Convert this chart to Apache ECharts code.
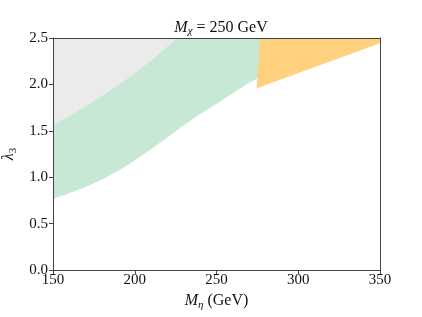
<!DOCTYPE html>
<html><head><meta charset="utf-8">
<script src="https://cdn.jsdelivr.net/npm/echarts@6/dist/echarts.min.js"></script>
<style>html,body{margin:0;padding:0;background:#fff}#c{width:422px;height:317px}</style>
</head><body><div id="c"></div>
<script>
// Gray region: above this boundary up to lambda = 2.5
const grayBoundX = [150, 160, 170, 180, 190, 200, 210, 220, 226];
const grayBoundY = [1.555, 1.657, 1.762, 1.872, 1.99, 2.117, 2.255, 2.405, 2.5];
// Green region: lower boundary
const greenLowX = [150, 160, 170, 180, 190, 200, 210, 220, 230, 240, 250, 260, 270, 275.5];
const greenLowY = [0.768, 0.83, 0.898, 0.978, 1.073, 1.183, 1.305, 1.432, 1.562, 1.684, 1.795, 1.907, 2.022, 2.07];
// Green right edge top point
const greenTopRightX = 276.8;
// Orange region: lower boundary
const orangeLowX = [274.7, 300, 325, 350];
const orangeLowY = [1.96, 2.125, 2.285, 2.446];
const orangeTopLeftX = 276.8;
const yMax = 2.5;

function zip(xs, ys) { return xs.map((x, i) => [x, ys[i]]); }

const grayPoly = [[150, yMax]].concat(zip(grayBoundX, grayBoundY));
const greenPoly = zip(greenLowX, greenLowY)
  .concat([[greenTopRightX, yMax]])
  .concat(zip(grayBoundX, grayBoundY).reverse());
const orangePoly = zip(orangeLowX, orangeLowY)
  .concat([[350, yMax], [orangeTopLeftX, yMax]]);

function polySeries(pts, color, z) {
  return {
    type: 'custom', z: z, clip: true, silent: true,
    data: pts,
    encode: { x: 0, y: 1 },
    renderItem: function (params, api) {
      if (params.dataIndex !== 0) return null;
      const points = pts.map(p => api.coord(p));
      return { type: 'polygon', shape: { points: points }, style: { fill: color, stroke: color, lineWidth: 0.5 } };
    }
  };
}

const serif = '"Liberation Serif", "DejaVu Serif", serif';
const frameColor = '#444';
const chart = echarts.init(document.getElementById('c'), null, { renderer: 'canvas' });
chart.setOption({
  animation: false,
  backgroundColor: '#fff',
  title: {
    text: '{i|M}{s|χ}{n| = 250 GeV}',
    left: 216, top: 13, textAlign: 'center',
    textStyle: {
      fontWeight: 'normal',
      rich: {
        i: { fontFamily: serif, fontStyle: 'italic', fontWeight: 'normal', fontSize: 16, color: '#111' },
        s: { fontFamily: serif, fontStyle: 'italic', fontWeight: 'normal', fontSize: 11, color: '#111', padding: [8, 0, 0, 0] },
        n: { fontFamily: serif, fontWeight: 'normal', fontSize: 16, color: '#111' }
      }
    }
  },
  grid: { left: 53, right: 42, top: 38, bottom: 47, containLabel: false, outerBoundsMode: 'none', show: false },
  xAxis: [{
    type: 'value', min: 150, max: 350, interval: 50, z: 10,
    name: '{i|M}{s|η}{n| (GeV)}', nameLocation: 'middle', nameGap: 21,
    nameTextStyle: {
      rich: {
        i: { fontFamily: serif, fontStyle: 'italic', fontSize: 16, color: '#111' },
        s: { fontFamily: serif, fontStyle: 'italic', fontSize: 11, color: '#111', padding: [8, 0, 0, 0] },
        n: { fontFamily: serif, fontSize: 16, color: '#111' }
      }
    },
    axisLine: { show: true, onZero: false, lineStyle: { color: frameColor, width: 1 } },
    axisTick: { show: true, length: 4, lineStyle: { color: frameColor } },
    axisLabel: { fontFamily: serif, fontSize: 15, color: '#111', margin: 3, formatter: v => String(v) },
    splitLine: { show: false }
  }, {
    type: 'value', min: 150, max: 350, position: 'top', z: 10,
    axisLine: { show: true, onZero: false, lineStyle: { color: frameColor, width: 1 } },
    axisTick: { show: false }, axisLabel: { show: false }, splitLine: { show: false }
  }],
  yAxis: [{
    type: 'value', min: 0, max: 2.5, interval: 0.5, z: 10,
    name: '{i|λ}{s|3}', nameLocation: 'middle', nameGap: 31, nameRotate: 90,
    nameTextStyle: {
      rich: {
        i: { fontFamily: serif, fontStyle: 'italic', fontSize: 16, color: '#111' },
        s: { fontFamily: serif, fontSize: 11, color: '#111', padding: [8, 0, 0, 0] }
      }
    },
    axisLine: { show: true, onZero: false, lineStyle: { color: frameColor, width: 1 } },
    axisTick: { show: true, length: 4, lineStyle: { color: frameColor } },
    axisLabel: { fontFamily: serif, fontSize: 15, color: '#111', margin: 5, formatter: v => v.toFixed(1) },
    splitLine: { show: false }
  }, {
    type: 'value', min: 0, max: 2.5, position: 'right', z: 10,
    axisLine: { show: true, onZero: false, lineStyle: { color: frameColor, width: 1 } },
    axisTick: { show: false }, axisLabel: { show: false }, splitLine: { show: false }
  }],
  series: [
    polySeries(grayPoly, '#ebebeb', 1),
    polySeries(greenPoly, '#c6e8d5', 2),
    polySeries(orangePoly, '#ffd17f', 3)
  ]
});
</script></body></html>
